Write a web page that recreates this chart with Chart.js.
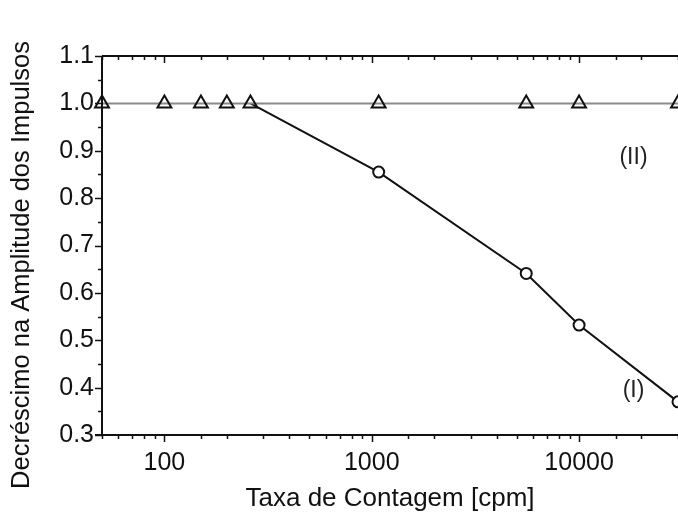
<!DOCTYPE html>
<html>
<head>
<meta charset="utf-8">
<script src="https://cdn.jsdelivr.net/npm/chart.js@4/dist/chart.umd.min.js"></script>
<style>
  html, body { margin: 0; padding: 0; background: #fff; }
  #wrap { width: 678px; height: 516px; position: relative; }
</style>
</head>
<body>
<div id="wrap"><canvas id="c" width="678" height="516"></canvas></div>
<script>
// Data
const countRatesII = [50, 100, 150, 200, 260, 1080, 5560, 10000, 30000];
const amplitudeII  = [1.0, 1.0, 1.0, 1.0, 1.0, 1.0, 1.0, 1.0, 1.0];
const countRatesI  = [260, 1080, 5560, 10000, 30000];
const amplitudeI   = [1.0, 0.855, 0.641, 0.532, 0.37];
const xTickLabels  = [100, 1000, 10000];
const yTickLabels  = [0.3, 0.4, 0.5, 0.6, 0.7, 0.8, 0.9, 1.0, 1.1];
const seriesNames  = ['(I)', '(II)'];
const labelPosI    = { x: 18300, y: 0.393 };
const labelPosII   = { x: 18300, y: 0.885 };
const yTitle       = 'Decréscimo na Amplitude dos Impulsos';
const xTitle       = 'Taxa de Contagem [cpm]';

const FONT = "'Liberation Sans', Arial, Helvetica, sans-serif";

const frame = {
  id: 'frame',
  afterDraw(chart) {
    const ctx = chart.ctx;
    const { left, right, top, bottom } = chart.chartArea;
    const xs = chart.scales.x, ys = chart.scales.y;
    ctx.save();
    ctx.strokeStyle = '#111';
    ctx.lineWidth = 2;
    ctx.beginPath();
    ctx.moveTo(left, top); ctx.lineTo(right + 2, top);
    ctx.moveTo(left, top); ctx.lineTo(left, bottom);
    ctx.moveTo(left - 7, bottom); ctx.lineTo(right + 2, bottom);
    ctx.stroke();
    ctx.lineWidth = 1.5;
    ctx.beginPath();
    xs.ticks.forEach(t => {
      const v = t.value;
      const major = Math.abs(Math.log10(v) - Math.round(Math.log10(v))) < 1e-9;
      const px = Math.round(xs.getPixelForValue(v)) + 0.5;
      const len = major ? 7 : 4;
      ctx.moveTo(px, bottom); ctx.lineTo(px, bottom + len);
      ctx.moveTo(px, top); ctx.lineTo(px, top + len);
    });
    const yMin = yTickLabels[0], yMax = yTickLabels[yTickLabels.length - 1];
    for (let i = 0; i <= Math.round((yMax - yMin) / 0.05); i++) {
      const v = yMin + i * 0.05;
      const py = Math.round(ys.getPixelForValue(v)) + 0.5;
      const len = (i % 2 === 0) ? 7 : 4;
      ctx.moveTo(left - len, py); ctx.lineTo(left, py);
    }
    ctx.stroke();
    // series labels
    ctx.fillStyle = '#222';
    ctx.font = '23px ' + FONT;
    ctx.textAlign = 'center';
    ctx.textBaseline = 'middle';
    ctx.fillText(seriesNames[0], xs.getPixelForValue(labelPosI.x), ys.getPixelForValue(labelPosI.y));
    ctx.fillText(seriesNames[1], xs.getPixelForValue(labelPosII.x), ys.getPixelForValue(labelPosII.y));
    // y-axis title
    ctx.save();
    ctx.translate(22, 265);
    ctx.rotate(-Math.PI / 2);
    ctx.fillStyle = '#111';
    ctx.font = '25.5px ' + FONT;
    ctx.fillText(yTitle, 0, 0);
    ctx.restore();
    ctx.restore();
  }
};

new Chart(document.getElementById('c'), {
  type: 'line',
  data: {
    datasets: [
      {
        label: seriesNames[1],
        data: countRatesII.map((x, i) => ({ x, y: amplitudeII[i] })),
        borderColor: '#8a8a8a',
        borderWidth: 2,
        pointStyle: 'triangle',
        pointRadius: 8,
        pointBorderWidth: 2,
        pointBorderColor: '#111',
        pointBackgroundColor: 'rgba(255,255,255,0)',
        clip: false,
        tension: 0
      },
      {
        label: seriesNames[0],
        data: countRatesI.map((x, i) => ({ x, y: amplitudeI[i] })),
        borderColor: '#111',
        borderWidth: 2,
        pointStyle: 'circle',
        pointRadius: [0, 5.5, 5.5, 5.5, 5.5],
        pointBorderWidth: 2,
        pointBorderColor: '#111',
        pointBackgroundColor: '#fff',
        clip: false,
        tension: 0
      }
    ]
  },
  options: {
    responsive: false,
    animation: false,
    events: [],
    layout: { autoPadding: false, padding: { top: 56, right: 0, left: 0, bottom: 0 } },
    plugins: { legend: { display: false }, tooltip: { enabled: false } },
    scales: {
      x: {
        type: 'logarithmic',
        min: 50,
        max: 30000,
        grid: { display: true, drawOnChartArea: false, drawTicks: true, tickLength: 13, tickColor: 'rgba(0,0,0,0)' },
        border: { display: false },
        ticks: {
          autoSkip: false,
          maxRotation: 0,
          padding: 0,
          color: '#111',
          font: { family: FONT, size: 25 },
          callback: (v) => xTickLabels.includes(v) ? String(v) : ''
        },
        title: {
          display: true,
          text: xTitle,
          color: '#111',
          font: { family: FONT, size: 26 },
          padding: { top: 0, bottom: 2 }
        },
        afterFit: (s) => { s.height = 81; s.paddingRight = 0; s.paddingLeft = 0; }
      },
      y: {
        type: 'linear',
        min: 0.3,
        max: 1.1,
        grid: { display: false, drawTicks: false },
        border: { display: false },
        afterBuildTicks: (s) => { s.ticks = yTickLabels.map(v => ({ value: v })); },
        ticks: {
          padding: 8,
          color: '#111',
          font: { family: FONT, size: 25 },
          callback: (v) => Number(v).toFixed(1)
        },
        title: { display: false },
        afterFit: (s) => { s.width = 102; s.paddingTop = 0; s.paddingBottom = 0; }
      }
    }
  },
  plugins: [frame]
});
</script>
</body>
</html>
